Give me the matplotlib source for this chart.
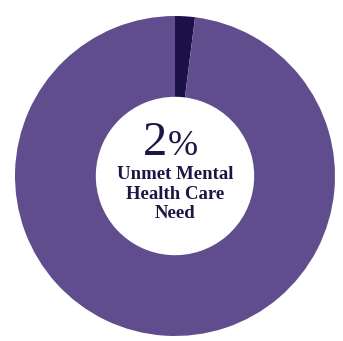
import matplotlib.pyplot as plt

# share of people with unmet mental health care need
labels = ['Unmet need', 'Other']
shares = [2, 98]
colors = ['#1c1048', '#5f4d8e']
caption = ['Unmet Mental', 'Health Care', 'Need']

fig = plt.figure(figsize=(3.43, 3.41), dpi=100)
ax = fig.add_axes([15 / 343, 5 / 341, 320 / 343, 320 / 341])

ax.pie(shares, colors=colors, startangle=90, counterclock=False,
       radius=1.0, wedgeprops=dict(width=0.505, linewidth=0))
ax.set_xlim(-1, 1)
ax.set_ylim(-1, 1)
ax.set_aspect('equal')
ax.axis('off')

ink = '#1e1545'
serif = ['Liberation Serif', 'DejaVu Serif']
ax.text(-0.125, 0.131, f'{shares[0]}', ha='center', va='baseline', fontsize=35,
        color=ink, family=serif)
ax.text(-0.045, 0.131, '%', ha='left', va='baseline', fontsize=26,
        color=ink, family=serif)
for i, line in enumerate(caption):
    ax.text(0, -0.019 - 0.122 * i, line, ha='center', va='baseline',
            fontsize=13.5, fontweight='bold', color=ink, family=serif)

fig.savefig('out.png', dpi=100)
